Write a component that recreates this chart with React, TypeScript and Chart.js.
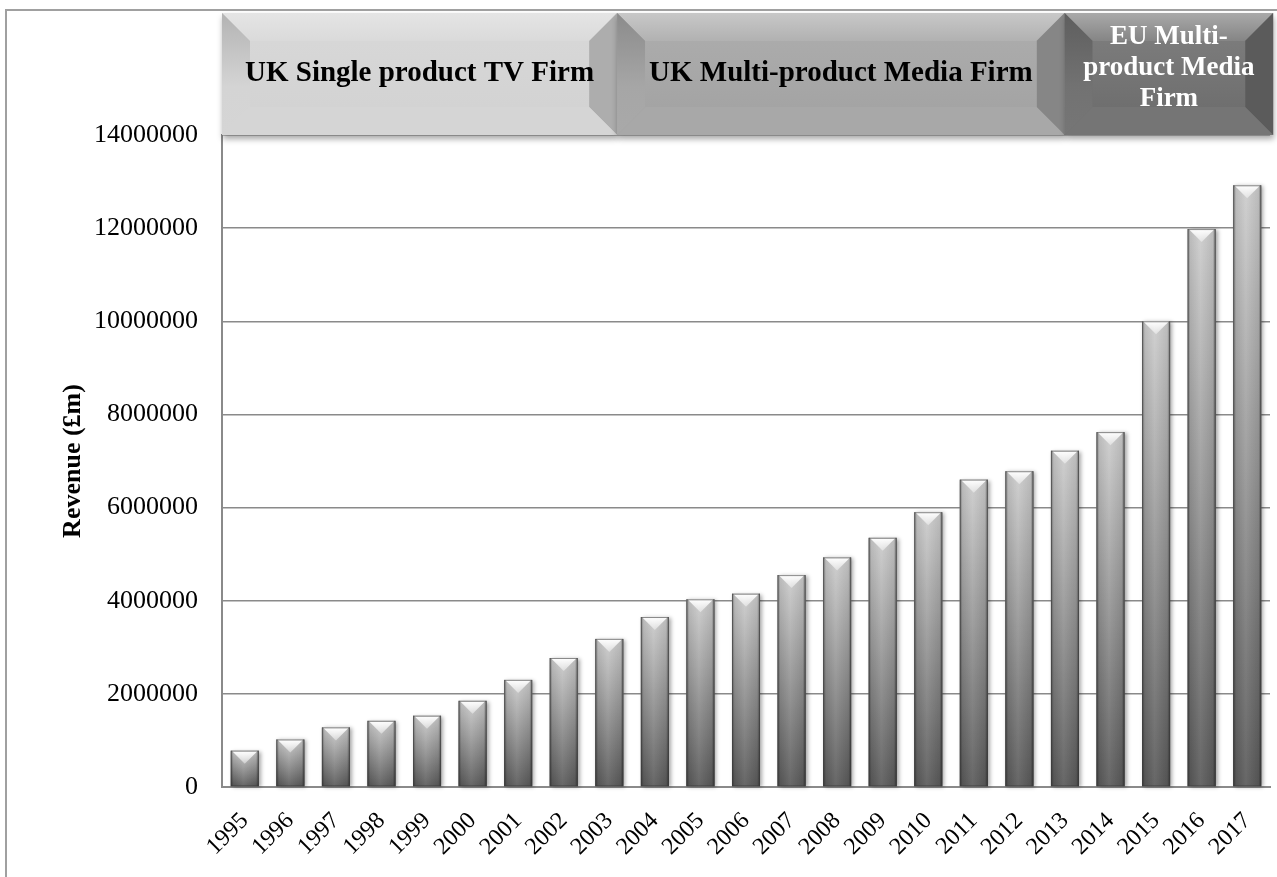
import React, { useEffect, useRef } from "react";
import { Chart, registerables } from "chart.js";

Chart.register(...registerables);

// ---- data ----
const years = [
  "1995", "1996", "1997", "1998", "1999", "2000", "2001", "2002", "2003", "2004", "2005", "2006",
  "2007", "2008", "2009", "2010", "2011", "2012", "2013", "2014", "2015", "2016", "2017",
];
const revenue = [
  780000, 1020000, 1280000, 1420000, 1530000, 1850000, 2300000, 2770000, 3180000, 3650000,
  4030000, 4150000, 4550000, 4930000, 5350000, 5900000, 6600000, 6780000, 7220000, 7620000,
  10000000, 11980000, 12920000,
];
const yMin = 0;
const yMax = 14000000;
const yStep = 2000000;
const yTitle = "Revenue (£m)";
const phaseLabels = [
  ["UK Single product TV Firm"],
  ["UK Multi-product Media Firm"],
  ["EU Multi-", "product Media", "Firm"],
];

// ---- layout / style ----
const FONT = "'Liberation Serif', 'Times New Roman', serif";
const phaseEdges = [0, 0.377, 0.804, 1.003]; // fractions of plot width
const phaseStyles = [
  { base: "#d3d3d3", text: "#000000", size: 29, gap: 31 },
  { base: "#a4a4a4", text: "#000000", size: 29, gap: 31 },
  { base: "#6f6f6f", text: "#ffffff", size: 27, gap: 31 },
];

function shade(hex: string, amt: number) {
  const n = parseInt(hex.slice(1), 16);
  let r = (n >> 16) & 255, g = (n >> 8) & 255, b = n & 255;
  const f = (c: number) => Math.max(0, Math.min(255, Math.round(amt >= 0 ? c + (255 - c) * amt : c * (1 + amt))));
  r = f(r); g = f(g); b = f(b);
  return `rgb(${r},${g},${b})`;
}

const barStylePlugin = {
  id: "barStyle",
  afterDatasetsDraw(chart: any) {
    const ctx: CanvasRenderingContext2D = chart.ctx;
    const meta = chart.getDatasetMeta(0);
    meta.data.forEach((el: any) => {
      const { x, y, base, width } = el.getProps(["x", "y", "base", "width"], true);
      const l = x - width / 2, r = x + width / 2, t = y, b = base;
      ctx.save();
      ctx.shadowColor = "rgba(0,0,0,0.35)";
      ctx.shadowBlur = 4;
      ctx.shadowOffsetX = 2;
      ctx.shadowOffsetY = 1;
      const g = ctx.createLinearGradient(0, t, 0, b);
      g.addColorStop(0, "#cdcdcd");
      g.addColorStop(1, "#5a5a5a");
      ctx.fillStyle = g;
      ctx.fillRect(l, t, width, b - t);
      ctx.restore();

      ctx.save();
      const h = ctx.createLinearGradient(l, 0, r, 0);
      h.addColorStop(0, "rgba(0,0,0,0.40)");
      h.addColorStop(0.1, "rgba(0,0,0,0.08)");
      h.addColorStop(0.45, "rgba(255,255,255,0.08)");
      h.addColorStop(0.9, "rgba(0,0,0,0.08)");
      h.addColorStop(1, "rgba(0,0,0,0.45)");
      ctx.fillStyle = h;
      ctx.fillRect(l, t, width, b - t);

      const bev = Math.min(13, (b - t) / 2);
      const tg = ctx.createLinearGradient(0, t, 0, t + bev);
      tg.addColorStop(0, "rgba(255,255,255,1)");
      tg.addColorStop(1, "rgba(255,255,255,0.4)");
      ctx.beginPath();
      ctx.moveTo(l + 1, t);
      ctx.lineTo(r - 1, t);
      ctx.lineTo(x, t + bev);
      ctx.closePath();
      ctx.fillStyle = tg;
      ctx.fill();
      ctx.strokeStyle = "rgba(60,60,60,0.6)";
      ctx.lineWidth = 1;
      ctx.strokeRect(l + 0.5, t + 0.5, width - 1, b - t - 1);
      ctx.restore();
    });
  },
};

function drawBanner(
  ctx: CanvasRenderingContext2D,
  x0: number, y0: number, x1: number, y1: number,
  style: { base: string; text: string; size: number; gap: number },
  lines: string[]
) {
  const d = 28;
  ctx.save();
  ctx.shadowColor = "rgba(0,0,0,0.35)";
  ctx.shadowBlur = 6;
  ctx.shadowOffsetY = 4;
  ctx.shadowOffsetX = 1;
  ctx.fillStyle = style.base;
  ctx.fillRect(x0, y0, x1 - x0, y1 - y0);
  ctx.restore();

  ctx.save();
  const tg = ctx.createLinearGradient(0, y0, 0, y0 + d + 10);
  tg.addColorStop(0, shade(style.base, 0.4));
  tg.addColorStop(1, shade(style.base, 0.06));
  ctx.beginPath();
  ctx.moveTo(x0, y0); ctx.lineTo(x1, y0); ctx.lineTo(x1 - d, y0 + d); ctx.lineTo(x0 + d, y0 + d); ctx.closePath();
  ctx.fillStyle = tg; ctx.fill();
  const lg = ctx.createLinearGradient(0, y0, 0, y1);
  lg.addColorStop(0, shade(style.base, -0.15));
  lg.addColorStop(0.6, shade(style.base, 0.02));
  lg.addColorStop(1, shade(style.base, 0.05));
  ctx.beginPath();
  ctx.moveTo(x0, y0); ctx.lineTo(x0 + d, y0 + d); ctx.lineTo(x0 + d, y1 - d); ctx.lineTo(x0, y1); ctx.closePath();
  ctx.fillStyle = lg; ctx.fill();
  ctx.beginPath();
  ctx.moveTo(x1, y0); ctx.lineTo(x1, y1); ctx.lineTo(x1 - d, y1 - d); ctx.lineTo(x1 - d, y0 + d); ctx.closePath();
  ctx.fillStyle = shade(style.base, -0.18); ctx.fill();
  ctx.beginPath();
  ctx.moveTo(x0, y1); ctx.lineTo(x0 + d, y1 - d); ctx.lineTo(x1 - d, y1 - d); ctx.lineTo(x1, y1); ctx.closePath();
  ctx.fillStyle = shade(style.base, 0.04); ctx.fill();
  const fg = ctx.createLinearGradient(0, y0 + d, 0, y1 - d);
  fg.addColorStop(0, shade(style.base, 0.08));
  fg.addColorStop(1, style.base);
  ctx.fillStyle = fg;
  ctx.fillRect(x0 + d, y0 + d, x1 - x0 - 2 * d, y1 - y0 - 2 * d);

  ctx.fillStyle = style.text;
  ctx.font = `bold ${style.size}px ${FONT}`;
  ctx.textAlign = "center";
  ctx.textBaseline = "middle";
  const cx = (x0 + x1) / 2;
  const cy = (y0 + y1) / 2 - (lines.length > 1 ? 6 : 0);
  lines.forEach((ln, i) => {
    ctx.fillText(ln, cx, cy + (i - (lines.length - 1) / 2) * style.gap);
  });
  ctx.restore();
}

const bannerPlugin = {
  id: "banners",
  afterDraw(chart: any) {
    const ctx: CanvasRenderingContext2D = chart.ctx;
    const { left, right, top } = chart.chartArea;
    const w = right - left;
    const y0 = 2;
    const y1 = top;
    for (let i = 0; i < phaseLabels.length; i++) {
      const x0 = left + phaseEdges[i] * w;
      const x1 = left + phaseEdges[i + 1] * w;
      drawBanner(ctx, x0, y0, x1, y1, phaseStyles[i], phaseLabels[i]);
    }
  },
};

export default function App() {
  const ref = useRef<HTMLCanvasElement | null>(null);
  useEffect(() => {
    if (!ref.current) return;
    const chart = new Chart(ref.current, {
      type: "bar",
      data: {
        labels: years,
        datasets: [
          {
            data: revenue,
            backgroundColor: "#8c8c8c",
            borderWidth: 0,
            barPercentage: 0.615,
            categoryPercentage: 1,
          },
        ],
      },
      options: {
        animation: false,
        responsive: true,
        maintainAspectRatio: false,
        layout: { padding: { top: 124, right: 7, left: 0, bottom: 0 } },
        plugins: { legend: { display: false }, tooltip: { enabled: false } },
        scales: {
          x: {
            grid: { display: false, drawTicks: false },
            border: { display: true, color: "#8a8a8a", width: 2 },
            ticks: {
              color: "#000",
              font: { family: FONT, size: 24 },
              minRotation: 45,
              maxRotation: 45,
              autoSkip: false,
              padding: 20,
            },
            afterFit(s: any) {
              s.height = 90;
              s.paddingRight = 0;
              s.paddingLeft = 0;
            },
          },
          y: {
            min: yMin,
            max: yMax,
            ticks: {
              stepSize: yStep,
              padding: 24,
              color: "#000",
              font: { family: FONT, size: 26 },
              callback: (v: any) => String(v),
            },
            grid: { color: "#8a8a8a", lineWidth: 1.5, drawTicks: false },
            border: { color: "#8a8a8a", width: 2 },
            title: {
              display: true,
              text: yTitle,
              color: "#000",
              font: { family: FONT, size: 26, weight: "bold" },
              padding: { top: 51, bottom: 0 },
            },
            afterFit(s: any) { s.width = 215; },
          },
        },
      } as any,
      plugins: [barStylePlugin, bannerPlugin],
    });
    return () => chart.destroy();
  }, []);

  return (
    <div
      style={{
        position: "fixed",
        left: 5,
        top: 9,
        width: 1285,
        height: 880,
        border: "2px solid #a0a0a0",
        background: "#fff",
      }}
    >
      <div style={{ position: "relative", width: 1270, height: 866 }}>
        <canvas ref={ref} />
      </div>
    </div>
  );
}
